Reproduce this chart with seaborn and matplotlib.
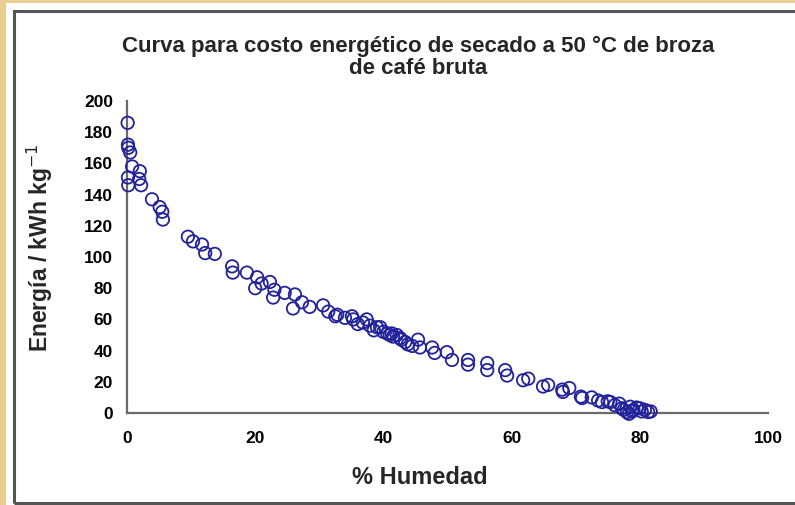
import matplotlib
matplotlib.use("Agg")
import matplotlib.pyplot as plt
import matplotlib.patches as mpatches
import seaborn as sns
import pandas as pd

title_lines = ["Curva para costo energético de secado a 50 °C de broza", "de café bruta"]
x_label = "% Humedad"
y_label = "Energía / kWh kg$^{-1}$"
x_ticks = [0, 20, 40, 60, 80, 100]
y_ticks = [0, 20, 40, 60, 80, 100, 120, 140, 160, 180, 200]

humedad = [0.1, 0.15, 0.2, 0.5, 0.8, 2.0, 0.15, 1.9, 0.2, 2.2, 3.9, 5.1, 5.5, 5.6,
           9.5, 10.3, 11.7, 12.2, 13.7, 16.4, 16.5, 18.7, 20.3, 20.0, 21.0, 22.3,
           22.8, 23.0, 24.6, 26.2, 25.9, 27.3, 28.5, 30.6, 31.4, 32.8, 32.5, 34.0,
           35.1, 35.3, 36.0, 36.8, 37.4, 37.9, 38.5, 39.0, 39.5, 40.0, 40.6, 41.0,
           41.3, 41.5, 42.1, 42.6, 42.8, 43.4, 43.8, 44.5, 45.4, 45.7, 47.6, 48.0,
           49.9, 50.7, 53.2, 53.2, 56.2, 56.2, 59.0, 59.3, 61.8, 62.6, 64.9, 65.7,
           67.9, 68.0, 69.0, 70.8, 71.0, 72.5, 73.5, 74.1, 75.0, 75.4, 76.1, 76.8,
           77.2, 77.5, 78.0, 78.3, 78.5, 78.8, 79.0, 79.5, 80.0, 80.3, 80.8, 81.3, 81.7]
energia = [186, 172, 170, 167, 158, 155, 151, 150, 146, 146, 137, 132, 129, 124,
           113, 110, 108, 102.5, 102, 94, 90, 90, 87, 80, 83, 84,
           74, 79, 77, 76, 67, 71, 68, 69, 65, 63, 62, 61,
           62, 60, 57, 58, 60, 56, 53, 55, 55, 52, 51, 50,
           51, 49, 50, 48, 47, 45.5, 44, 43, 47, 42, 42, 38.5,
           39, 34, 34, 31, 32, 27.5, 27.5, 24, 21, 22, 17, 18,
           15, 13.5, 16, 10.5, 9.6, 10, 8, 7, 7.5, 7, 5, 6,
           3, 2, 0.6, -0.5, 4, 1, 2, 3.5, 3, 1, 2, 0.6, 1]

df = pd.DataFrame({"Humedad": humedad, "Energia": energia})

sns.set_theme(style="white")
plt.rcParams["font.family"] = ["Liberation Sans Narrow", "Liberation Sans", "DejaVu Sans"]

W, H = 795, 505
fig = plt.figure(figsize=(W / 100, H / 100), dpi=100)
fig.patch.set_facecolor("#E9CE90")

# white panel with grey border
panel = mpatches.Rectangle((6 / W, 0), 1.0, 1 - 3 / H, transform=fig.transFigure,
                           facecolor="white", edgecolor="none", zorder=-3)
fig.patches.append(panel)
border = mpatches.Rectangle((14 / W, 1 - 502.5 / H), 1.0, (502.5 - 10.5) / H,
                            transform=fig.transFigure, facecolor="none",
                            edgecolor="#555555", linewidth=2.2, zorder=-2)
fig.patches.append(border)

ax = fig.add_axes([127 / W, 1 - 413 / H, (768 - 127) / W, (413 - 101) / H])
ax.set_zorder(5)
ax.set_facecolor("none")

sns.scatterplot(data=df, x="Humedad", y="Energia", ax=ax, marker="o",
                facecolors="none", edgecolors="#22229A", linewidth=1.3, s=80,
                clip_on=False, zorder=3)

ax.set_xlim(0, 100)
ax.set_ylim(0, 200)
ax.set_xticks(x_ticks)
ax.set_yticks(y_ticks)
ax.set_xticklabels([str(t) for t in x_ticks], fontsize=12.5, fontweight="bold")
ax.set_yticklabels([str(t) for t in y_ticks], fontsize=12.5, fontweight="bold")
ax.set_xlabel("")
ax.set_ylabel("")
for s in ["top", "right"]:
    ax.spines[s].set_visible(False)
for s in ["left", "bottom"]:
    ax.spines[s].set_color("#6a6a6a")
    ax.spines[s].set_linewidth(1.6)
ax.tick_params(axis="both", direction="out", length=5, width=1.4, color="#6a6a6a",
               labelcolor="black")
ax.tick_params(axis="x", pad=8)
ax.tick_params(axis="y", pad=5)

fig.text(418 / W, 1 - 46 / H, title_lines[0], ha="center", va="center",
         fontsize=16, fontweight="bold", zorder=6)
fig.text(418 / W, 1 - 69 / H, title_lines[1], ha="center", va="center",
         fontsize=16, fontweight="bold", zorder=6)
fig.text(420 / W, 1 - 477 / H, x_label, ha="center", va="center",
         fontsize=17, fontweight="bold", zorder=6)
fig.text(40 / W, 1 - 248 / H, y_label, ha="center", va="center", rotation=90,
         fontsize=16.5, fontweight="bold", zorder=6)

fig.savefig("out.png", dpi=100, facecolor=fig.get_facecolor())
